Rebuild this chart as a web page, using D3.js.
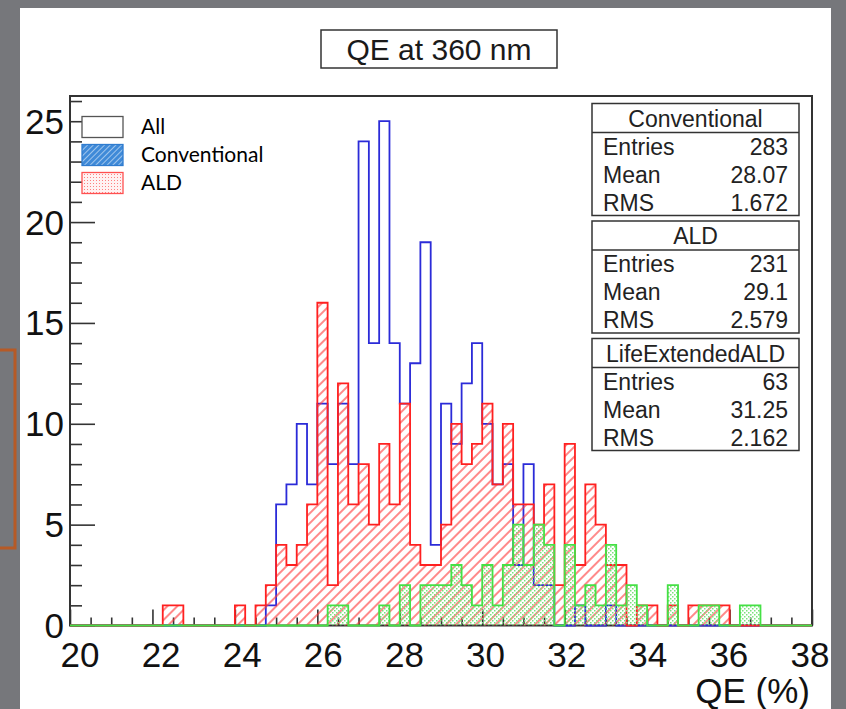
<!DOCTYPE html>
<html><head><meta charset="utf-8">
<script src="https://cdn.jsdelivr.net/npm/d3@7"></script>
<style>html,body{margin:0;padding:0;background:#76777b;} svg{display:block}</style>
</head><body>
<svg id="c" width="846" height="709"></svg>
<script>
// ---------------- data ----------------
const xMin = 20, xMax = 38, binWidth = 0.25;
// counts per 0.25 bin from 20 to 38 (72 bins)
const conventional = [0,0,0,0,0,0,0,0,0,0, 0,0,0,0,0,0,0,0,0,1,
  6,7,10,7,11,8,11,8,24,14, 25,14,11,13,19,4,11,9,12,14,
  10,7,8,3,8,2,2,0,0,1, 0,0,1,0,0,0,0,0,0,0, 0,0,0,0,0,0,0,0,0,0, 0,0];
const ald = [0,0,0,0,0,0,0,0,0,1, 1,0,0,0,0,0,1,0,1,2,
  4,3,4,6,16,2,12,6,8,5, 9,6,11,4,3,3,5,10,8,9,
  11,7,10,6,6,5,7,2,9,3, 7,5,3,3,0,1,1,0,1,0, 1,1,1,1,0,0,0,0,0,0, 0,0];
const lifeExtended = [0,0,0,0,0,0,0,0,0,0, 0,0,0,0,0,0,0,0,0,0,
  0,0,0,0,0,1,1,0,0,0, 1,0,2,0,2,2,2,3,2,1,
  3,1,3,5,3,5,4,0,4,1, 2,1,4,1,2,1,0,0,2,0, 0,1,1,0,0,1,1,0,0,0, 0,0];
const xTickLabels = [20,22,24,26,28,30,32,34,36,38];
const yTickLabels = [0,5,10,15,20,25];
const legendLabels = ["All","Conventional","ALD"];
const statNames = ["Conventional","ALD","LifeExtendedALD"];
const statEntries = ["283","231","63"];
const statMeans = ["28.07","29.1","31.25"];
const statRMS = ["1.672","2.579","2.162"];
const titleText = "QE at 360 nm";
const xTitle = "QE (%)";

// ---------------- drawing ----------------
const svg = d3.select("#c");
const HELV = "'Liberation Sans', Arial, Helvetica, sans-serif";
const defs = svg.append("defs");

// patterns
const pr = defs.append("pattern").attr("id","hatchRed").attr("patternUnits","userSpaceOnUse")
  .attr("width",7).attr("height",7).attr("patternTransform","rotate(45)");
pr.append("line").attr("x1",1).attr("y1",0).attr("x2",1).attr("y2",7)
  .attr("stroke","#ff3a3a").attr("stroke-width",1.2);
const pg = defs.append("pattern").attr("id","dotGreen").attr("patternUnits","userSpaceOnUse")
  .attr("width",4).attr("height",4);
pg.append("rect").attr("x",0).attr("y",0).attr("width",1.5).attr("height",1.5).attr("fill","#7ae27a");
pg.append("rect").attr("x",2).attr("y",2).attr("width",1.5).attr("height",1.5).attr("fill","#7ae27a");
const pb = defs.append("pattern").attr("id","hatchBlue").attr("patternUnits","userSpaceOnUse")
  .attr("width",4).attr("height",4).attr("patternTransform","rotate(45)");
pb.append("rect").attr("width",4).attr("height",4).attr("fill","#3f8ad8");
pb.append("line").attr("x1",0.5).attr("y1",0).attr("x2",0.5).attr("y2",4).attr("stroke","#b9d6f3").attr("stroke-width",0.8);
const pp = defs.append("pattern").attr("id","dotPink").attr("patternUnits","userSpaceOnUse")
  .attr("width",3).attr("height",3);
pp.append("rect").attr("width",3).attr("height",3).attr("fill","#fff2f2");
pp.append("rect").attr("x",0).attr("y",0).attr("width",1).attr("height",1).attr("fill","#ff8080");

// slide background
svg.append("rect").attr("width",846).attr("height",709).attr("fill","#76777b");
svg.append("rect").attr("x",20).attr("y",8).attr("width",811).attr("height",701).attr("fill","#ffffff");
// orange bracket on left
svg.append("path").attr("d","M0,350 H15 V548 H0").attr("fill","none")
  .attr("stroke","#b65a26").attr("stroke-width",3);

const x = d3.scaleLinear().domain([xMin,xMax]).range([70,812]);
const y = d3.scaleLinear().domain([0,26.25]).range([625.5,96]);
// label placement along the x axis as in the picture
const xLab = d3.scaleLinear().domain([xMin,xMax]).range([80,810]);

// title
svg.append("rect").attr("x",321).attr("y",30).attr("width",236).attr("height",38)
  .attr("fill","#fff").attr("stroke","#333").attr("stroke-width",1.5);
svg.append("text").attr("x",439).attr("y",60).attr("text-anchor","middle")
  .attr("font-family",HELV).attr("font-size",30).attr("fill","#1a1a1a").text(titleText);

// frame
svg.append("rect").attr("x",x(xMin)).attr("y",y(26.25)).attr("width",x(xMax)-x(xMin))
  .attr("height",y(0)-y(26.25)).attr("fill","none").attr("stroke","#333").attr("stroke-width",2);

// axis ticks
const gx = svg.append("g");
gx.append("g").attr("transform",`translate(0,${y(0)})`)
  .call(d3.axisBottom(x).tickValues(d3.range(xMin,xMax+0.01,0.5).filter(v=>v%2!==0)).tickSize(-8).tickFormat(""));
gx.append("g").attr("transform",`translate(0,${y(0)})`)
  .call(d3.axisBottom(x).tickValues(xTickLabels).tickSize(-16).tickFormat(""));
gx.append("g").attr("transform",`translate(${x(xMin)},0)`)
  .call(d3.axisLeft(y).tickValues(d3.range(0,27).filter(v=>v%5!==0)).tickSize(-12).tickFormat(""));
gx.append("g").attr("transform",`translate(${x(xMin)},0)`)
  .call(d3.axisLeft(y).tickValues(yTickLabels).tickSize(-25).tickFormat(""));
gx.selectAll(".domain").remove();
gx.selectAll(".tick line").attr("stroke","#333").attr("stroke-width",1.6);

// histograms
const edges = d3.range(conventional.length+1).map(i => xMin + i*binWidth);
function pts(counts){
  const p = [[xMin,0]];
  counts.forEach((c,i)=>p.push([edges[i],c]));
  p.push([xMax,counts[counts.length-1]]);
  p.push([xMax,0]);
  return p;
}
const line = d3.line().x(d=>x(d[0])).y(d=>y(d[1])).curve(d3.curveStepAfter);
const area = d3.area().x(d=>x(d[0])).y0(y(0)).y1(d=>y(d[1])).curve(d3.curveStepAfter);

svg.append("path").attr("d",line(pts(conventional))).attr("fill","none")
  .attr("stroke","#2b2bd8").attr("stroke-width",1.8);
svg.append("path").attr("d",area(pts(ald))).attr("fill","url(#hatchRed)");
svg.append("path").attr("d",line(pts(ald))).attr("fill","none")
  .attr("stroke","#ff2020").attr("stroke-width",1.8);
svg.append("path").attr("d",area(pts(lifeExtended))).attr("fill","url(#dotGreen)");
svg.append("path").attr("d",line(pts(lifeExtended))).attr("fill","none")
  .attr("stroke","#45e045").attr("stroke-width",1.8);

// tick labels
svg.append("g").selectAll("text").data(xTickLabels).join("text")
  .attr("x",d=>xLab(d)).attr("y",667).attr("text-anchor","middle")
  .attr("font-family",HELV).attr("font-size",35).attr("fill","#111").text(d=>d);
svg.append("g").selectAll("text").data(yTickLabels).join("text")
  .attr("x",64).attr("y",d=>y(d)+12.5).attr("text-anchor","end")
  .attr("font-family",HELV).attr("font-size",35).attr("fill","#111").text(d=>d);
// axis title
svg.append("text").attr("x",810).attr("y",703).attr("text-anchor","end")
  .attr("font-family",HELV).attr("font-size",35).attr("fill","#111").text(xTitle);

// stats boxes
statNames.forEach((name,i)=>{
  const top = 103.5 + i*117.5, left = 592, w = 207, h = 112;
  const g = svg.append("g");
  g.append("rect").attr("x",left).attr("y",top).attr("width",w).attr("height",h)
    .attr("fill","#fff").attr("stroke","#333").attr("stroke-width",1.5);
  g.append("line").attr("x1",left).attr("x2",left+w).attr("y1",top+29).attr("y2",top+29)
    .attr("stroke","#333").attr("stroke-width",1.5);
  g.append("text").attr("x",left+w/2).attr("y",top+23).attr("text-anchor","middle")
    .attr("font-family",HELV).attr("font-size",23).attr("fill","#222").text(name);
  const rows = [["Entries",statEntries[i]],["Mean",statMeans[i]],["RMS",statRMS[i]]];
  rows.forEach((r,j)=>{
    g.append("text").attr("x",left+11).attr("y",top+51+j*28)
      .attr("font-family",HELV).attr("font-size",23).attr("fill","#222").text(r[0]);
    g.append("text").attr("x",left+w-11).attr("y",top+51+j*28).attr("text-anchor","end")
      .attr("font-family",HELV).attr("font-size",23).attr("fill","#222").text(r[1]);
  });
});

// legend
const legFill = ["#ffffff","url(#hatchBlue)","url(#dotPink)"];
const legStroke = ["#555","#2f7ccf","#ff5050"];
legendLabels.forEach((lab,i)=>{
  const cy = 127 + i*28;
  svg.append("rect").attr("x",82).attr("y",cy-10.5).attr("width",41).attr("height",21)
    .attr("fill",legFill[i]).attr("stroke",legStroke[i]).attr("stroke-width",1.3);
  svg.append("text").attr("x",141).attr("y",cy+7).attr("font-family","Lato, 'Open Sans', sans-serif")
    .attr("font-size",21).attr("fill","#000").text(lab);
});
</script>
</body></html>
